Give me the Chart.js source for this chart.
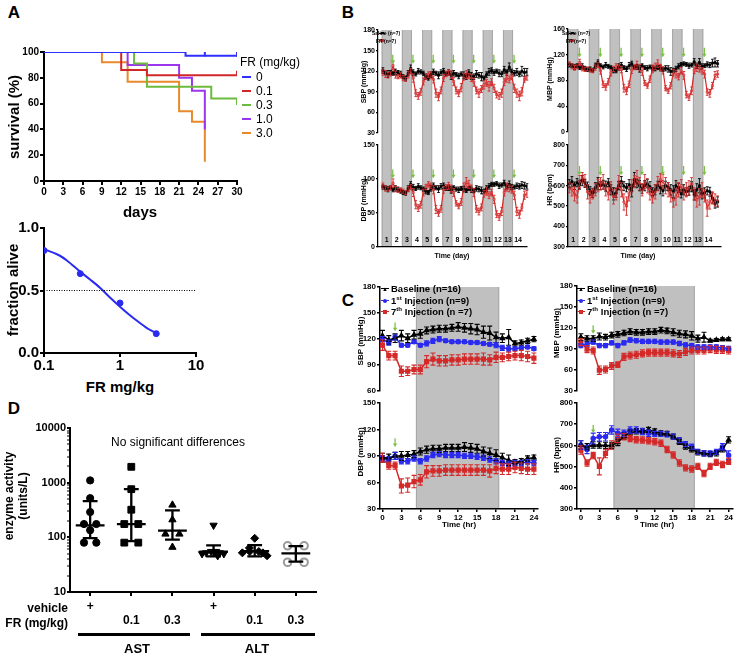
<!DOCTYPE html>
<html>
<head>
<meta charset="utf-8">
<script src="https://cdn.jsdelivr.net/npm/chart.js@4.4.1/dist/chart.umd.min.js"></script>
<style>
  body { margin: 0; background: #fff; }
  #fig { position: relative; width: 738px; height: 655px; overflow: hidden; background: #fff;
         font-family: Arial, "Liberation Sans", Helvetica, sans-serif; }
  #fig canvas { position: absolute; }
  .t { position: absolute; white-space: nowrap; line-height: 1; color: #000; }
  .t sup { font-size: 65%; line-height: 0; }
  .bx { position: absolute; }
</style>
</head>
<body>
<div id="fig"></div>
<script>
const FONT = 'Arial, "Liberation Sans", Helvetica, sans-serif';

// ---------- A: survival ----------
const survDose = ['0', '0.1', '0.3', '1.0', '3.0'];
const survColors = ['#2f2fff', '#d0282a', '#6cbb3c', '#9b36ef', '#e9892b'];
const survDays0 = [0, 22, 30];
const survPct0 = [100, 97, 97];
const survDays01 = [0, 12, 16, 30];
const survPct01 = [100, 86, 82, 82];
const survDays03 = [0, 14, 16, 26, 30, 30];
const survPct03 = [100, 91, 73, 64, 64, 59];
const survDays1 = [0, 13, 21, 23, 25];
const survPct1 = [100, 90, 80, 70, 40];
const survDays3 = [0, 9, 13, 21, 23, 25];
const survPct3 = [100, 92, 77, 54, 46, 15];
const censorDays0 = [25, 30];
const censorPct0 = [98.5, 98.5];
const censorDays01 = [30];
const censorPct01 = [83.5];
const dayTicks = [0, 3, 6, 9, 12, 15, 18, 21, 24, 27, 30];
const pctTicks = [0, 20, 40, 60, 80, 100];

// ---------- A: dose response ----------
const doseX = [0.1, 0.3, 1, 3];
const aliveFrac = [0.82, 0.635, 0.40, 0.155];
const fitX = [0.1, 0.16, 0.2, 0.3, 0.4, 0.55, 0.75, 1, 1.3, 1.83, 2.4, 3];
const fitY = [0.83, 0.78, 0.74, 0.65, 0.59, 0.52, 0.44, 0.37, 0.31, 0.24, 0.19, 0.16];
const halfLevel = 0.5;

// ---------- B: 14 day telemetry, 4 bins per day ----------
const bTime = [];
for (let i = 0; i < 58; i++) bTime.push((i + 0.5) / 4);
const bDarkDays = [1, 3, 5, 7, 9, 11, 13];
const bInjection = [1.1, 3.1, 5.1, 7.1, 9.1, 11.1, 13.1];
const bDayLabels = ['1','2','3','4','5','6','7','8','9','10','11','12','13','14'];

const sbpSaline = [121,118,116,118, 117,119,118,116, 112,110,117,124, 118,116,120,119, 117,112,110,115,
  119,117,114,118, 120,116,118,114, 117,115,113,116, 114,112,118,113, 112,116,114,112,
  110,115,119,121, 118,120,117,116, 122,118,126,119, 117,119,116,120, 118,119];
const sbpSalineErr = [4,3,5,3, 3,4,3,4, 3,3,4,5, 4,3,4,3, 3,4,3,4, 4,3,5,4, 4,3,4,6, 4,3,4,3, 5,4,4,5,
  4,5,4,6, 3,4,5,4, 4,3,5,4, 5,4,6,4, 4,5,4,7, 6,5];
const sbpFR = [118,116,114,116, 128,115,112,114, 110,108,115,120, 110,88,84,90, 105,112,115,114,
  108,88,83,92, 110,116,118,115, 105,92,88,96, 112,115,113,110, 104,92,88,94,
  100,103,98,104, 95,86,84,88, 104,110,108,112, 95,88,84,90, 108,110];
const sbpFRErr = [4,5,4,3, 6,5,3,4, 4,3,5,4, 6,5,5,5, 5,4,4,5, 5,6,6,5, 5,4,4,5, 6,5,5,6, 5,6,4,5,
  6,5,6,5, 6,5,7,5, 6,5,5,6, 5,6,5,4, 6,6,7,6, 4,3];

const mbpSaline = [104,103,101,103, 100,102,99,97, 98,96,103,108, 103,101,104,102, 100,96,95,101,
  104,100,98,103, 106,100,101,98, 103,100,99,101, 99,98,100,99, 97,99,98,94,
  96,98,102,105, 106,105,103,104, 109,103,108,102, 103,105,104,107, 108,106];
const mbpSalineErr = [3,3,4,3, 3,4,3,3, 3,3,4,4, 3,3,4,3, 3,4,3,5, 4,3,4,5, 4,3,4,5, 3,3,4,3, 4,3,3,4,
  3,4,5,6, 3,4,4,3, 3,3,4,3, 5,4,6,4, 3,4,4,6, 7,5];
const mbpFR = [106,102,100,101, 108,99,97,98, 96,95,100,104, 95,74,70,78, 92,98,102,100,
  97,68,64,74, 96,101,104,100, 94,76,72,82, 98,102,106,100, 96,68,64,72,
  92,90,86,95, 88,58,54,64, 96,100,98,95, 90,62,60,72, 88,90];
const mbpFRErr = [3,4,4,3, 5,4,3,3, 3,3,4,4, 5,5,5,5, 5,4,4,4, 5,6,6,5, 5,4,6,5, 6,4,4,5, 6,5,6,5,
  6,4,4,5, 5,6,5,5, 6,5,5,6, 5,6,5,5, 6,5,6,5, 6,5];

const dbpSaline = [88,87,85,87, 84,86,85,82, 80,79,86,92, 88,86,89,87, 85,82,80,86,
  90,87,85,89, 90,86,87,84, 87,85,84,86, 85,83,86,84, 83,86,85,83,
  82,86,89,92, 92,93,90,91, 94,89,92,88, 88,90,89,91, 90,89];
const dbpSalineErr = [3,3,4,3, 3,4,3,3, 3,3,4,4, 4,3,4,3, 3,4,3,4, 4,3,5,4, 4,3,4,5, 3,3,4,3, 4,3,3,4,
  3,4,4,5, 3,4,4,3, 3,3,4,3, 4,4,5,4, 3,4,4,5, 5,4];
const dbpFR = [90,86,85,87, 94,85,83,84, 82,80,85,88, 80,62,57,62, 80,88,92,90,
  84,55,50,56, 84,88,90,86, 80,64,60,66, 88,95,92,86, 80,56,52,58,
  78,82,76,80, 70,48,44,52, 80,88,86,84, 76,52,48,58, 76,78];
const dbpFRErr = [4,4,3,3, 6,4,3,3, 3,3,4,4, 6,6,5,5, 5,4,4,4, 6,6,5,5, 5,4,5,5, 6,4,4,5, 6,7,6,5,
  6,5,5,5, 5,6,5,5, 6,5,5,6, 5,6,5,5, 6,6,6,5, 6,5];

const hrSaline = [610,620,600,615, 605,625,612,600, 575,565,590,610, 600,605,598,615, 580,560,565,600,
  620,598,590,605, 575,630,610,600, 585,600,610,595, 570,580,600,590, 575,600,595,580,
  570,600,590,560, 580,570,575,595, 555,580,600,560, 565,575,570,540, 510,520];
const hrSalineErr = [20,25,18,20, 22,25,20,18, 20,22,25,30, 20,22,25,20, 25,30,22,20, 25,22,20,25,
  30,35,20,25, 22,25,20,25, 20,25,22,30, 25,22,20,25, 30,25,22,20, 25,20,22,25, 25,30,35,25,
  25,20,22,25, 20,25];
const hrFR = [590,580,560,545, 620,640,625,570, 545,560,580,600, 610,620,580,560, 590,545,560,620,
  580,520,500,560, 600,620,640,610, 580,620,600,560, 545,570,610,630, 620,600,580,550,
  530,545,580,600, 560,580,590,610, 560,530,545,580, 550,490,520,540, 530,525];
const hrFRErr = [25,30,35,30, 30,25,30,35, 30,25,30,30, 30,35,30,30, 30,35,30,30, 35,40,45,35,
  30,30,35,30, 30,35,35,30, 30,35,35,30, 35,40,35,30, 35,40,35,30, 30,35,35,30, 30,35,40,35,
  30,40,35,30, 30,25];

// ---------- C: 24 h after injection ----------
const cHours = [];
for (let h = 0; h <= 24; h++) cHours.push(h);
const cDark = [5.3, 18.5];
const cInjection = [2];
const hourTicks = [0, 3, 6, 9, 12, 15, 18, 21, 24];

const cSbpBase = [124,119,121,124,121,125,126,130,131,132,132,133,134,133,132,131,128,127,122,121,122,115,116,118,120];
const cSbpBaseErr = [6,5,5,6,5,5,5,4,4,4,4,4,5,5,6,6,7,8,6,5,9,3,3,3,3];
const cSbp1st = [120,116,122,113,113,117,113,115,118,120,118,117,117,117,116,116,115,114,113,110,109,109,110,111,109];
const cSbp1stErr = [3,3,3,2,2,2,2,3,3,3,2,2,2,2,2,2,2,2,3,3,3,2,2,2,2];
const cSbp7th = [113,101,101,83,83,85,85,94,97,95,95,96,96,97,97,97,97,96,99,99,100,101,101,100,98];
const cSbp7thErr = [6,5,5,6,5,5,5,7,7,6,6,6,6,6,6,6,7,6,6,5,5,5,6,6,6];

const cDbpBase = [88,88,90,90,91,92,95,97,98,98,99,99,99,100,99,98,95,93,91,88,85,83,84,87,88];
const cDbpBaseErr = [5,4,4,5,4,4,4,4,4,4,4,4,4,5,5,5,5,6,6,5,6,3,3,3,3];
const cDbp1st = [87,86,90,84,84,87,84,87,91,92,91,91,91,90,90,89,88,86,84,82,81,82,82,83,82];
const cDbp1stErr = [3,3,4,3,3,3,3,3,3,3,3,3,3,3,3,3,3,3,3,3,3,3,3,3,3];
const cDbp7th = [88,79,79,56,57,61,63,72,73,73,74,74,74,74,74,74,74,73,76,75,75,77,76,75,75];
const cDbp7thErr = [5,4,4,8,8,7,6,7,6,6,6,6,6,6,6,6,6,7,6,6,6,6,6,6,6];

const cMbpBase = [107,105,105,108,107,110,111,113,115,114,114,115,115,117,116,114,112,111,109,105,107,102,103,104,104];
const cMbpBaseErr = [5,4,4,5,4,4,4,4,4,4,4,4,4,4,4,5,5,5,6,5,7,2,2,2,2];
const cMbp1st = [95,97,100,95,95,99,95,99,103,102,101,101,101,100,100,100,98,96,95,93,93,93,93,92,91];
const cMbp1stErr = [3,3,3,3,3,3,3,3,3,3,3,3,3,3,3,3,3,3,3,3,3,3,3,3,3];
const cMbp7th = [100,90,88,60,61,66,68,79,81,82,84,85,85,85,85,84,83,86,88,88,88,90,89,89,88];
const cMbp7thErr = [5,5,5,6,5,5,4,5,5,5,5,5,5,5,5,5,5,5,5,5,5,5,5,5,5];

const cHrBase = [602,594,602,602,600,600,614,643,660,666,666,673,666,657,654,641,617,594,581,567,562,559,562,581,626];
const cHrBaseErr = [20,15,15,15,15,15,15,15,12,12,12,12,12,12,12,12,12,12,12,12,12,12,12,12,15];
const cHr1st = [602,581,633,641,641,673,657,657,673,673,666,657,654,654,652,641,625,606,594,570,562,562,570,594,554];
const cHr1stErr = [20,20,25,20,20,20,20,15,15,15,15,15,12,12,12,12,12,12,12,12,12,12,12,15,20];
const cHr7th = [578,517,552,501,562,602,633,641,633,627,625,622,617,610,581,555,517,494,489,501,467,501,520,510,525];
const cHr7thErr = [20,15,15,40,20,20,20,15,15,15,15,15,15,15,15,15,15,15,15,15,15,15,15,15,15];

// ---------- D: liver enzymes ----------
const dVehicleRow = ['+', '', '', '+', '', ''];
const dFRRow = ['', '0.1', '0.3', '', '0.1', '0.3'];
const astVehicle = [1100, 520, 290, 175, 175, 135, 80, 80];
const ast01 = [1950, 760, 320, 175, 175, 80, 80];
const ast03 = [390, 210, 115, 115, 66];
const altVehicle = [166, 50, 52, 55, 55, 52, 50, 46];
const alt01 = [96, 64, 52, 55, 55, 52, 46];
const alt03 = [70, 70, 35, 35];
const dCenter = [165, 175, 133, 55, 56, 51];
const dLow = [97, 85, 91, 45, 45, 36];
const dHigh = [460, 760, 310, 71, 72, 69];
const enzymeTicks = [10, 100, 1000, 10000];

// horizontal spread of dots inside a group (style only)
const dJitter = [
  [0, 0, 0, -0.15, 0.15, 0, -0.15, 0.15],
  [0, 0, 0, -0.17, 0.17, -0.17, 0.17],
  [0, 0, -0.17, 0.17, 0],
  [0, -0.28, -0.18, -0.06, 0.06, 0.15, 0.25, 0.1],
  [0, -0.13, -0.3, -0.12, 0.1, 0.2, 0.3],
  [-0.2, 0.2, -0.2, 0.2]
];

const GRAY = '#c0c0c0';
const RED = '#d42a2a';
const BLUE = '#2b2bf0';
const GREEN = '#7cc143';

Chart.defaults.font.family = FONT;
Chart.defaults.plugins.legend.display = false;
Chart.defaults.plugins.tooltip.enabled = false;

const fig = document.getElementById('fig');

function txt(s, x, y, size, o) {
  o = o || {};
  const d = document.createElement('div');
  d.className = 't';
  d.innerHTML = s;
  d.style.left = x + 'px';
  d.style.top = y + 'px';
  d.style.fontSize = size + 'px';
  d.style.fontWeight = o.w || 'bold';
  if (o.lh) { d.style.lineHeight = o.lh + 'px'; d.style.textAlign = 'center'; }
  let tr = o.align === 'left' ? 'translate(0,-50%)' : o.align === 'right' ? 'translate(-100%,-50%)' : 'translate(-50%,-50%)';
  if (o.rot) tr += ' rotate(-90deg)';
  d.style.transform = tr;
  fig.appendChild(d);
  return d;
}

function box(x, y, w, h, color, radius) {
  const d = document.createElement('div');
  d.className = 'bx';
  d.style.left = x + 'px'; d.style.top = y + 'px';
  d.style.width = w + 'px'; d.style.height = h + 'px';
  d.style.background = color;
  if (radius) d.style.borderRadius = radius;
  fig.appendChild(d);
}

// axis with fixed ticks, ticks drawn outside only
function ax(type, min, max, ticks, o) {
  o = o || {};
  return {
    type: type, min: min, max: max,
    afterBuildTicks: s => { s.ticks = ticks.map(v => ({ value: v })); },
    border: { display: o.line !== false, color: '#000', width: o.bw || 1.5 },
    grid: { drawOnChartArea: false, drawTicks: !!o.tl, tickLength: o.tl || 0, color: '#000',
            lineWidth: o.bw || 1.5, tickWidth: o.bw || 1.5 },
    ticks: { display: !!o.fs, font: { family: FONT, size: o.fs || 8, weight: 'bold' }, color: '#000',
             padding: o.pad == null ? 2 : o.pad, maxRotation: 0, autoSkip: false,
             callback: o.cb || (v => String(v)) }
  };
}

// one chart whose plot area sits exactly at box (page px), with margins m around it
function plot(bx, m, xAx, yAx, datasets, plugins) {
  const c = document.createElement('canvas');
  const w = bx.r - bx.l + m.l + m.r, h = bx.b - bx.t + m.t + m.b;
  c.width = w; c.height = h;
  c.style.left = (bx.l - m.l) + 'px';
  c.style.top = (bx.t - m.t) + 'px';
  c.style.width = w + 'px'; c.style.height = h + 'px';
  fig.appendChild(c);
  xAx.afterFit = s => { s.height = m.b; };
  yAx.afterFit = s => { s.width = m.l; };
  return new Chart(c, {
    type: 'line',
    data: { datasets: datasets },
    options: {
      responsive: false, animation: false, devicePixelRatio: 1,
      layout: { padding: { top: m.t, right: m.r, left: 0, bottom: 0 } },
      scales: { x: xAx, y: yAx }
    },
    plugins: plugins || []
  });
}

function pts(xs, ys) { return xs.map((x, i) => ({ x: x, y: ys[i] })); }

// error bars from dataset.err
const errorBars = {
  id: 'errorBars',
  afterDatasetsDraw(chart) {
    const ctx = chart.ctx, ys = chart.scales.y;
    chart.data.datasets.forEach((ds, di) => {
      if (!ds.err) return;
      const meta = chart.getDatasetMeta(di);
      ctx.save();
      ctx.strokeStyle = ds.borderColor;
      ctx.lineWidth = ds.errWidth || 1;
      const w = ds.capW || 2;
      meta.data.forEach((p, i) => {
        const v = ds.data[i].y, e = ds.err[i];
        const y1 = ys.getPixelForValue(v + e), y2 = ys.getPixelForValue(v - e);
        ctx.beginPath();
        ctx.moveTo(p.x, y1); ctx.lineTo(p.x, y2);
        ctx.moveTo(p.x - w, y1); ctx.lineTo(p.x + w, y1);
        ctx.moveTo(p.x - w, y2); ctx.lineTo(p.x + w, y2);
        ctx.stroke();
      });
      ctx.restore();
    });
  }
};

// gray dark-phase bands; can run past the plot to the canvas edge so that stacked charts join
function bands(spans, up, down) {
  return {
    id: 'bands',
    beforeDraw(chart) {
      const ctx = chart.ctx, xs = chart.scales.x, a = chart.chartArea;
      const top = up ? 0 : a.top, bot = down ? chart.height : a.bottom;
      ctx.save();
      spans.forEach(s => {
        const x1 = xs.getPixelForValue(s[0]), x2 = xs.getPixelForValue(s[1]);
        ctx.fillStyle = GRAY;
        ctx.fillRect(x1, top, x2 - x1, bot - top);
        ctx.fillStyle = '#a6a6a6';
        ctx.fillRect(x1, top, 1, bot - top);
        ctx.fillRect(x2 - 1, top, 1, bot - top);
      });
      ctx.restore();
    }
  };
}

function arrows(at, from, to) {
  return {
    id: 'arrows',
    afterDatasetsDraw(chart) {
      const ctx = chart.ctx, xs = chart.scales.x, ys = chart.scales.y;
      ctx.save();
      ctx.strokeStyle = GREEN; ctx.fillStyle = GREEN; ctx.lineWidth = 1.3;
      at.forEach(u => {
        const x = xs.getPixelForValue(u), y1 = ys.getPixelForValue(from), y2 = ys.getPixelForValue(to);
        ctx.beginPath(); ctx.moveTo(x, y1); ctx.lineTo(x, y2 - 2); ctx.stroke();
        ctx.beginPath(); ctx.moveTo(x - 2.2, y2 - 3.5); ctx.lineTo(x + 2.2, y2 - 3.5); ctx.lineTo(x, y2); ctx.closePath(); ctx.fill();
      });
      ctx.restore();
    }
  };
}

const dayNumbers = {
  id: 'dayNumbers',
  afterDatasetsDraw(chart) {
    const ctx = chart.ctx, xs = chart.scales.x, a = chart.chartArea;
    ctx.save();
    ctx.fillStyle = '#000';
    ctx.font = 'bold 7px ' + FONT;
    ctx.textAlign = 'center'; ctx.textBaseline = 'middle';
    bDayLabels.forEach((s, i) => ctx.fillText(s, xs.getPixelForValue(i + 0.5), a.bottom - 7));
    ctx.restore();
  }
};

// ================= panel A =================
const survDays = [survDays0, survDays01, survDays03, survDays1, survDays3];
const survPct = [survPct0, survPct01, survPct03, survPct1, survPct3];
const survSets = survDays.map((d, k) => ({
  data: pts(d, survPct[k]), borderColor: survColors[k], borderWidth: 2,
  pointRadius: 0, stepped: true, fill: false
}));
survSets.push({ data: pts(censorDays0, censorPct0), borderColor: survColors[0], showLine: false,
  pointStyle: 'line', rotation: 90, pointRadius: 2.5, pointBorderWidth: 2 });
survSets.push({ data: pts(censorDays01, censorPct01), borderColor: survColors[1], showLine: false,
  pointStyle: 'line', rotation: 90, pointRadius: 2.5, pointBorderWidth: 2 });

plot({ l: 44, r: 237, t: 52, b: 181 }, { l: 44, t: 8, r: 12, b: 18 },
  ax('linear', 0, 30, dayTicks, { fs: 10, tl: 4, pad: 1, bw: 2 }),
  ax('linear', 0, 100, pctTicks, { fs: 10, tl: 4, pad: 1, bw: 2 }),
  survSets);

plot({ l: 44, r: 196, t: 228, b: 353 }, { l: 44, t: 10, r: 16, b: 20 },
  ax('logarithmic', 0.1, 10, [0.1, 1, 10], { fs: 15, tl: 4, pad: 0, bw: 2 }),
  ax('linear', 0, 1, [0, 0.5, 1], { fs: 15, tl: 4, pad: 1, bw: 2, cb: v => v.toFixed(1) }),
  [
    { data: pts([0.1, 10], [halfLevel, halfLevel]), borderColor: '#000', borderWidth: 1,
      borderDash: [1, 1.5], pointRadius: 0 },
    { data: pts(fitX, fitY), borderColor: BLUE, borderWidth: 2, pointRadius: 0,
      cubicInterpolationMode: 'monotone' },
    { data: pts(doseX, aliveFrac), borderColor: BLUE, backgroundColor: BLUE, showLine: false,
      pointRadius: 3 }
  ]);

// ================= panel B =================
function bSeries(ys, err, color, open) {
  return {
    data: pts(bTime, ys), err: err, borderColor: color, backgroundColor: open ? '#fff' : color,
    borderWidth: 1.2, pointRadius: 1.4, pointStyle: 'rect', pointBorderWidth: 0.8, capW: 1.4, errWidth: 0.9
  };
}
const bSpans = bDarkDays.map(d => [d - 1, d]);
const bLeftX = () => ax('linear', -0.36, 14.4, [], { line: false });
const bRightX = () => ax('linear', 0, 14.7, [], { line: false });

plot({ l: 378, r: 528, t: 30, b: 133 }, { l: 22, t: 6, r: 4, b: 6 },
  bLeftX(), ax('linear', 30, 180, [30, 60, 90, 120, 150, 180], { fs: 7, tl: 2, pad: 1, bw: 1.2 }),
  [bSeries(sbpSaline, sbpSalineErr, '#000'), bSeries(sbpFR, sbpFRErr, RED, true)],
  [bands(bSpans, false, true), errorBars, arrows(bInjection, 144, 131)]);

const dbpX = bLeftX(); dbpX.border.display = true; dbpX.border.width = 1.2;
plot({ l: 378, r: 528, t: 145, b: 248 }, { l: 22, t: 6, r: 4, b: 4 },
  dbpX, ax('linear', 0, 150, [0, 50, 100, 150], { fs: 7, tl: 2, pad: 1, bw: 1.2 }),
  [bSeries(dbpSaline, dbpSalineErr, '#000'), bSeries(dbpFR, dbpFRErr, RED, true)],
  [bands(bSpans, true, false), errorBars, arrows(bInjection, 114, 101), dayNumbers]);

plot({ l: 568, r: 721, t: 29, b: 132 }, { l: 22, t: 6, r: 8, b: 7 },
  bRightX(), ax('linear', 0, 160, [0, 40, 80, 120, 160], { fs: 7, tl: 2, pad: 1, bw: 1.2 }),
  [bSeries(mbpSaline, mbpSalineErr, '#000'), bSeries(mbpFR, mbpFRErr, RED, true)],
  [bands(bSpans, false, true), errorBars, arrows(bInjection, 131, 116)]);

const hrX = bRightX(); hrX.border.display = true; hrX.border.width = 1.2;
plot({ l: 568, r: 721, t: 145, b: 248 }, { l: 22, t: 6, r: 8, b: 4 },
  hrX, ax('linear', 300, 800, [300, 400, 500, 600, 700, 800], { fs: 7, tl: 2, pad: 1, bw: 1.2 }),
  [bSeries(hrSaline, hrSalineErr, '#000'), bSeries(hrFR, hrFRErr, RED, true)],
  [bands(bSpans, true, false), errorBars, arrows(bInjection, 697, 652), dayNumbers]);

// ================= panel C =================
function cSeries(ys, err, color, style, r) {
  return {
    data: pts(cHours, ys), err: err, borderColor: color, backgroundColor: color,
    borderWidth: 1.5, pointRadius: r, pointStyle: style, capW: 2.5, errWidth: 1.1
  };
}
const cSpans = [cDark];
const cLeftX = (show) => ax('linear', -0.39, 24.57, hourTicks, show ? { fs: 8, tl: 3, pad: 1, bw: 1.5 } : { line: false });
const cRightX = (show) => ax('linear', -0.63, 24.63, hourTicks, show ? { fs: 8, tl: 3, pad: 1, bw: 1.5 } : { line: false });

plot({ l: 380, r: 539, t: 287, b: 393 }, { l: 22, t: 6, r: 4, b: 4 },
  cLeftX(false), ax('linear', 60, 180, [60, 90, 120, 150, 180], { fs: 8, tl: 3, pad: 1 }),
  [cSeries(cSbpBase, cSbpBaseErr, '#000', 'triangle', 2.3),
   cSeries(cSbp1st, cSbp1stErr, BLUE, 'circle', 2),
   cSeries(cSbp7th, cSbp7thErr, RED, 'rect', 2.6)],
  [bands(cSpans, false, true), errorBars, arrows(cInjection, 139, 129)]);

plot({ l: 380, r: 539, t: 402, b: 509 }, { l: 22, t: 5, r: 4, b: 14 },
  cLeftX(true), ax('linear', 30, 150, [30, 60, 90, 120, 150], { fs: 8, tl: 3, pad: 1 }),
  [cSeries(cDbpBase, cDbpBaseErr, '#000', 'triangle', 2.3),
   cSeries(cDbp1st, cDbp1stErr, BLUE, 'circle', 2),
   cSeries(cDbp7th, cDbp7thErr, RED, 'rect', 2.6)],
  [bands(cSpans, true, false), errorBars, arrows(cInjection, 110, 100)]);

plot({ l: 577, r: 737, t: 286, b: 392 }, { l: 22, t: 6, r: 1, b: 5 },
  cRightX(false), ax('linear', 30, 180, [30, 60, 90, 120, 150, 180], { fs: 8, tl: 3, pad: 1 }),
  [cSeries(cMbpBase, cMbpBaseErr, '#000', 'triangle', 2.3),
   cSeries(cMbp1st, cMbp1stErr, BLUE, 'circle', 2),
   cSeries(cMbp7th, cMbp7thErr, RED, 'rect', 2.6)],
  [bands(cSpans, false, true), errorBars, arrows(cInjection, 124, 112)]);

plot({ l: 577, r: 737, t: 403, b: 509 }, { l: 22, t: 6, r: 1, b: 14 },
  cRightX(true), ax('linear', 300, 800, [300, 400, 500, 600, 700, 800], { fs: 8, tl: 3, pad: 1 }),
  [cSeries(cHrBase, cHrBaseErr, '#000', 'triangle', 2.3),
   cSeries(cHr1st, cHr1stErr, BLUE, 'circle', 2),
   cSeries(cHr7th, cHr7thErr, RED, 'rect', 2.6)],
  [bands(cSpans, true, false), errorBars, arrows(cInjection, 696, 658)]);

// ================= panel D =================
const dGroups = [astVehicle, ast01, ast03, altVehicle, alt01, alt03];
const dStyles = [
  { pointStyle: 'circle', pointRadius: 3.6, color: '#000' },
  { pointStyle: 'rect', pointRadius: 4.8, color: '#000' },
  { pointStyle: 'triangle', pointRadius: 4.2, color: '#000' },
  { pointStyle: 'triangle', pointRadius: 4.2, rotation: 180, color: '#000' },
  { pointStyle: 'rectRot', pointRadius: 4, color: '#000' },
  { pointStyle: 'circle', pointRadius: 3.8, color: '#9a9a9a', open: true }
];
const dSets = dGroups.map((vals, g) => {
  const st = dStyles[g];
  return {
    data: vals.map((v, i) => ({ x: g + dJitter[g][i], y: v })),
    showLine: false, pointStyle: st.pointStyle, pointRadius: st.pointRadius, rotation: st.rotation || 0,
    borderColor: st.color, backgroundColor: st.open ? 'rgba(255,255,255,0)' : st.color,
    pointBorderWidth: st.open ? 2 : 1
  };
});
const summary = {
  id: 'summary',
  afterDatasetsDraw(chart) {
    const ctx = chart.ctx, xs = chart.scales.x, ys = chart.scales.y;
    ctx.save();
    ctx.strokeStyle = '#000'; ctx.lineWidth = 2.3;
    dCenter.forEach((c, g) => {
      const x = xs.getPixelForValue(g);
      const half = xs.getPixelForValue(g + 0.35) - x, cap = xs.getPixelForValue(g + 0.18) - x;
      const yc = ys.getPixelForValue(c), yl = ys.getPixelForValue(dLow[g]), yh = ys.getPixelForValue(dHigh[g]);
      ctx.beginPath();
      ctx.moveTo(x - half, yc); ctx.lineTo(x + half, yc);
      ctx.moveTo(x, yh); ctx.lineTo(x, yl);
      ctx.moveTo(x - cap, yh); ctx.lineTo(x + cap, yh);
      ctx.moveTo(x - cap, yl); ctx.lineTo(x + cap, yl);
      ctx.stroke();
    });
    ctx.restore();
  }
};
const logMinor = [];
enzymeTicks.forEach((p, k) => {
  if (k === enzymeTicks.length - 1) { logMinor.push(p); return; }
  for (let j = 1; j < 10; j++) logMinor.push(p * j);
});
const dY = ax('logarithmic', 10, 10000, logMinor, { fs: 11, tl: 3, pad: 1, bw: 2,
  cb: v => enzymeTicks.indexOf(v) >= 0 ? String(v) : '' });
dY.grid.tickWidth = ctx => (ctx.tick && enzymeTicks.indexOf(ctx.tick.value) >= 0 ? 2 : 1);
const dX = ax('linear', -0.49, 5.49, [0, 1, 2, 3, 4, 5], { fs: 12, tl: 4, pad: 3, bw: 2,
  cb: (v) => [dVehicleRow[v], dFRRow[v]] });
plot({ l: 70, r: 316, t: 428, b: 592 }, { l: 40, t: 8, r: 22, b: 38 }, dX, dY, dSets, [summary]);

// ================= text =================
txt('A', 14, 12, 17);
txt('B', 348, 12, 17);
txt('C', 348, 300, 17);
txt('D', 14, 408, 17);

// A
txt('survival (%)', 13, 117, 15, { rot: true });
txt('days', 140, 211, 15);
txt('FR (mg/kg)', 240, 62, 12, { align: 'left', w: 'normal' });
survDose.forEach((s, k) => {
  const y = 77 + k * 14;
  box(242, y - 1, 9, 2, survColors[k]);
  txt(s, 256, y, 12, { align: 'left', w: 'normal' });
});
txt('fraction alive', 12, 290, 15, { rot: true });
txt('FR mg/kg', 120, 386, 15);

// B
txt('SBP (mmHg)', 363, 82, 7, { rot: true });
txt('DBP (mmHg)', 363, 200, 7, { rot: true });
txt('MBP (mmHg)', 549, 79, 7, { rot: true });
txt('HR (bpm)', 549, 190, 7, { rot: true });
txt('Time (day)', 452, 255, 7);
txt('Time (day)', 638, 255, 7);
[[382, 386], [572, 576]].forEach(p => {
  box(p[0] - 3, 32.5, 6, 1, '#000'); box(p[0] - 1, 31.5, 2.5, 2.5, '#000');
  txt('Saline (n=7)', p[1], 33, 5);
  box(p[0] - 3, 40, 6, 1, RED); box(p[0] - 1, 39, 2.5, 2.5, RED);
  txt('FR (n=7)', p[1], 40.5, 5);
});

// C
txt('SBP (mmHg)', 361, 341, 8, { rot: true });
txt('DBP (mmHg)', 361, 452, 8, { rot: true });
txt('MBP (mmHg)', 557, 333, 8, { rot: true });
txt('HR (bpm)', 557, 455, 8, { rot: true });
txt('Time (hr)', 459, 525, 8);
txt('Time (hr)', 657, 525, 8);
[[385, 391], [581, 587]].forEach(p => {
  box(p[0] - 4, 288, 8, 1.2, '#000');
  txt('&#9650;', p[0], 288.5, 6);
  txt('Baseline (n=16)', p[1], 289, 9.5, { align: 'left' });
  box(p[0] - 4, 300, 8, 1.2, BLUE); box(p[0] - 2, 298.5, 4, 4, BLUE, '50%');
  txt('1<sup>st</sup> Injection (n=9)', p[1], 300.5, 9.5, { align: 'left' });
  box(p[0] - 4, 311, 8, 1.2, RED); box(p[0] - 2, 309.5, 4, 4, RED);
  txt('7<sup>th</sup> Injection (n =7)', p[1], 311.5, 9.5, { align: 'left' });
});

// D
txt('enzyme activity<br>(units/L)', 16, 496, 12, { rot: true, lh: 14 });
txt('No significant differences', 178, 442, 12, { w: 'normal' });
txt('vehicle', 68, 608, 12, { align: 'right' });
txt('FR (mg/kg)', 68, 623, 12, { align: 'right' });
box(78, 633, 112, 3, '#000');
box(201, 633, 114, 3, '#000');
txt('AST', 137, 648, 13);
txt('ALT', 257, 648, 13);
</script>
</body>
</html>
